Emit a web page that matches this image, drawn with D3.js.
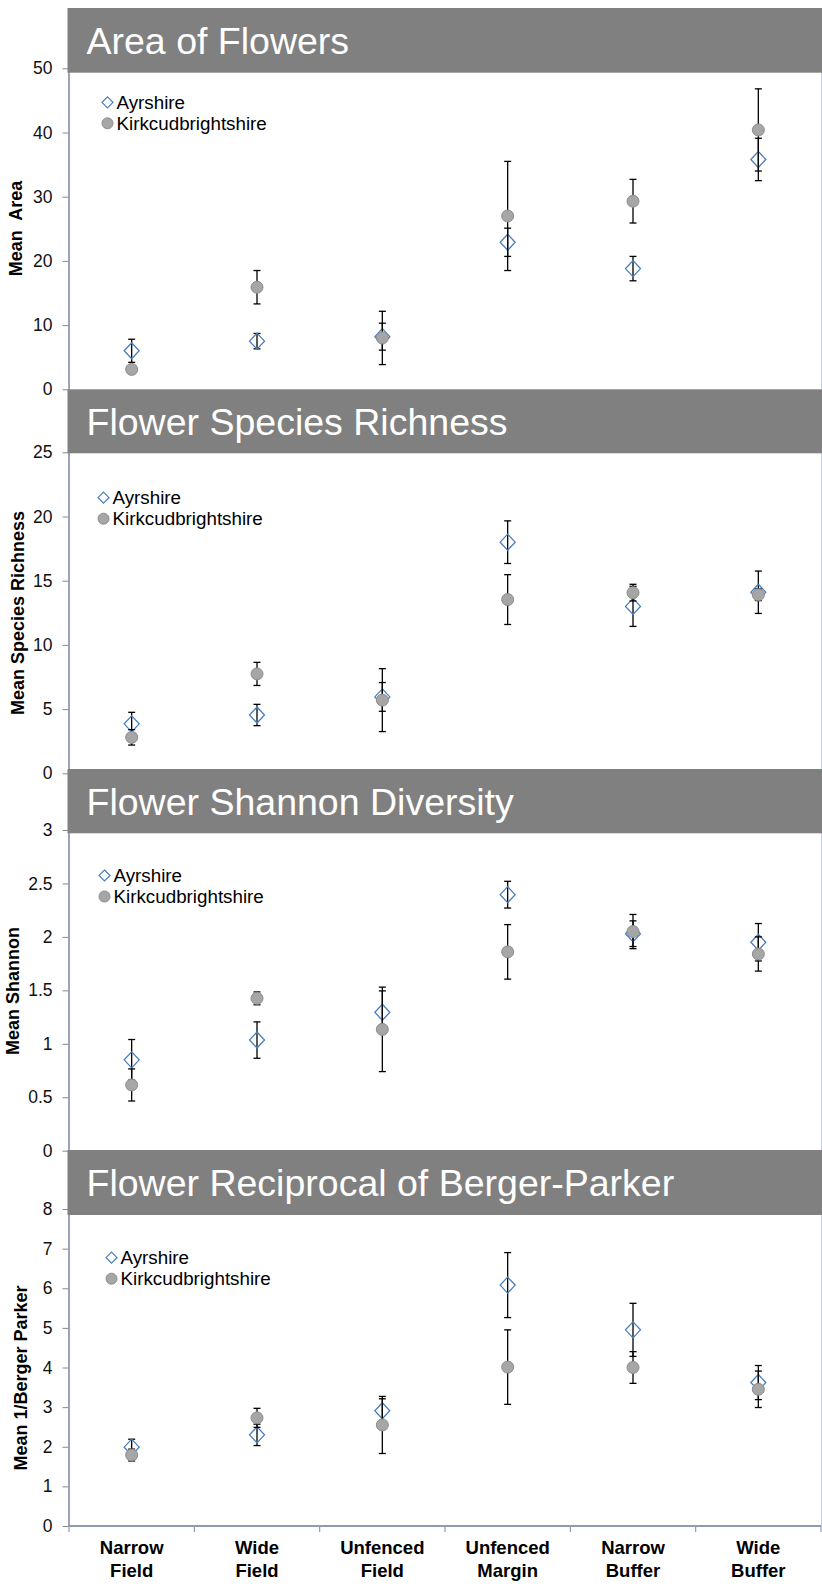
<!DOCTYPE html>
<html>
<head>
<meta charset="utf-8">
<script src="https://cdn.jsdelivr.net/npm/d3@7/dist/d3.min.js"></script>
<style>
  body { margin: 0; background: #fff; }
  text { font-family: "Liberation Sans", Arial, sans-serif; }
</style>
</head>
<body>
<script>
// ----------------------
// DATA
// ----------------------
const categories = [
  ["Narrow", "Field"], ["Wide", "Field"], ["Unfenced", "Field"],
  ["Unfenced", "Margin"], ["Narrow", "Buffer"], ["Wide", "Buffer"]
];
const seriesNames = ["Ayrshire", "Kirkcudbrightshire"];

// Area of flowers
const areaAyr     = [6.0, 7.5, 8.2, 22.9, 18.8, 35.8];
const areaAyrErr  = [1.8, 1.2, 2.1, 2.2, 1.9, 3.3];
const areaKirk    = [3.1, 15.9, 8.0, 27.0, 29.3, 40.4];
const areaKirkErr = [0.4, 2.6, 4.15, 8.5, 3.4, 6.4];
const areaTicks   = [0, 10, 20, 30, 40, 50];

// Species richness
const richAyr     = [3.85, 4.54, 5.95, 18.0, 13.0, 14.1];
const richAyrErr  = [0.9, 0.83, 1.12, 1.66, 1.56, 1.65];
const richKirk    = [2.8, 7.74, 5.7, 13.53, 14.07, 13.9];
const richKirkErr = [0.6, 0.9, 2.45, 1.94, 0.65, 0.45];
const richTicks   = [0, 5, 10, 15, 20, 25];

// Shannon diversity
const shanAyr     = [0.85, 1.035, 1.295, 2.395, 2.03, 1.95];
const shanAyrErr  = [0.19, 0.17, 0.2, 0.125, 0.12, 0.175];
const shanKirk    = [0.615, 1.425, 1.135, 1.86, 2.05, 1.84];
const shanKirkErr = [0.15, 0.06, 0.395, 0.255, 0.16, 0.16];
const shanTicks   = [0, 0.5, 1, 1.5, 2, 2.5, 3];

// Reciprocal of Berger-Parker
const bpAyr     = [1.99, 2.30, 2.91, 6.08, 4.95, 3.62];
const bpAyrErr  = [0.2, 0.27, 0.3, 0.82, 0.67, 0.43];
const bpKirk    = [1.79, 2.73, 2.55, 4.01, 4.0, 3.45];
const bpKirkErr = [0.15, 0.24, 0.72, 0.94, 0.4, 0.46];
const bpTicks   = [0, 1, 2, 3, 4, 5, 6, 7, 8];

// ----------------------
// LAYOUT
// ----------------------
const width = 822, height = 1589;
const plotLeft = 69, plotRight = 821;
const ayrColor = "#4a7ebb", kirkFill = "#a6a6a6", kirkStroke = "#8c8c8c";
const axisColor = "#8e9bb3", headColor = "#808080";

const panels = [
  { title: "Area of Flowers", yLabel: "Mean  Area", ticks: areaTicks,
    ayr: areaAyr, ayrErr: areaAyrErr, kirk: areaKirk, kirkErr: areaKirkErr,
    top: 68.3, zero: 389.3, headTop: 8, headBot: 72.7, legX: 107.5, legY: 102.3, labX: 16, labY: 228.5 },
  { title: "Flower Species Richness", yLabel: "Mean Species Richness", ticks: richTicks,
    ayr: richAyr, ayrErr: richAyrErr, kirk: richKirk, kirkErr: richKirkErr,
    top: 452.3, zero: 773.3, headTop: 389.3, headBot: 453.3, legX: 103.5, legY: 497.7, labX: 17.5, labY: 613 },
  { title: "Flower Shannon Diversity", yLabel: "Mean Shannon", ticks: shanTicks,
    ayr: shanAyr, ayrErr: shanAyrErr, kirk: shanKirk, kirkErr: shanKirkErr,
    top: 830, zero: 1150.7, headTop: 769, headBot: 833.3, legX: 104.5, legY: 875.5, labX: 13, labY: 991 },
  { title: "Flower Reciprocal of Berger-Parker", yLabel: "Mean 1/Berger Parker", ticks: bpTicks,
    ayr: bpAyr, ayrErr: bpAyrErr, kirk: bpKirk, kirkErr: bpKirkErr,
    top: 1209, zero: 1526, headTop: 1150, headBot: 1215, legX: 111.5, legY: 1257.7, labX: 21, labY: 1378 }
];

const svg = d3.select("body").append("svg")
  .attr("width", width).attr("height", height);

const x = d3.scaleBand().domain(d3.range(categories.length)).range([plotLeft, plotRight]);

const diamond = (cx, cy, hw, hh) =>
  `M${cx},${cy - hh}L${cx + hw},${cy}L${cx},${cy + hh}L${cx - hw},${cy}Z`;

function drawSeries(g, y, vals, errs, kind){
  const cx = i => x(i) + x.bandwidth() / 2;
  const eb = g.append("g").selectAll("g").data(vals).join("g")
    .attr("stroke", "#000").attr("stroke-width", 1.3);
  eb.append("line")
    .attr("x1", (d, i) => cx(i)).attr("x2", (d, i) => cx(i))
    .attr("y1", (d, i) => y(d + errs[i])).attr("y2", (d, i) => y(d - errs[i]));
  [1, -1].forEach(s => {
    eb.append("line")
      .attr("x1", (d, i) => cx(i) - 3.5).attr("x2", (d, i) => cx(i) + 3.5)
      .attr("y1", (d, i) => y(d + s * errs[i])).attr("y2", (d, i) => y(d + s * errs[i]));
  });
  if(kind === "ayr"){
    g.append("g").selectAll("path").data(vals).join("path")
      .attr("d", (d, i) => diamond(cx(i), y(d), 7.5, 8))
      .attr("fill", "none").attr("stroke", ayrColor).attr("stroke-width", 1.3);
  } else {
    g.append("g").selectAll("circle").data(vals).join("circle")
      .attr("cx", (d, i) => cx(i)).attr("cy", d => y(d)).attr("r", 6)
      .attr("fill", kirkFill).attr("stroke", kirkStroke).attr("stroke-width", 1);
  }
}

// plots first, headers drawn afterwards so they sit on top
panels.forEach(p => {
  const y = d3.scaleLinear().domain([0, d3.max(p.ticks)]).range([p.zero, p.top]);
  const g = svg.append("g");

  // right border of plot area
  g.append("line").attr("x1", plotRight + 0.5).attr("x2", plotRight + 0.5)
    .attr("y1", p.top).attr("y2", p.zero).attr("stroke", "#c3cde0").attr("stroke-width", 1);

  const ax = g.append("g").attr("transform", `translate(${plotLeft - 0.5},0)`)
    .call(d3.axisLeft(y).tickValues(p.ticks).tickFormat(d3.format("~g"))
      .tickSize(6).tickSizeOuter(0).tickPadding(10));
  ax.select(".domain").attr("stroke", axisColor).attr("stroke-width", 1.8);
  ax.selectAll(".tick line").attr("stroke", "#888");
  ax.selectAll(".tick text").attr("font-size", 17.5).attr("fill", "#111")
    .attr("font-family", "Liberation Sans, Arial, sans-serif");

  g.append("text")
    .attr("transform", `translate(${p.labX},${p.labY}) rotate(-90)`)
    .attr("text-anchor", "middle").attr("dy", "0.36em")
    .attr("font-size", 18).attr("font-weight", "bold")
    .style("white-space", "pre")
    .text(p.yLabel);

  drawSeries(g, y, p.ayr, p.ayrErr, "ayr");
  drawSeries(g, y, p.kirk, p.kirkErr, "kirk");

  // legend
  const leg = g.append("g");
  leg.append("path").attr("d", diamond(p.legX, p.legY, 5.5, 5.5))
    .attr("fill", "none").attr("stroke", ayrColor).attr("stroke-width", 1.2);
  leg.append("circle").attr("cx", p.legX).attr("cy", p.legY + 21).attr("r", 5.5)
    .attr("fill", kirkFill).attr("stroke", kirkStroke);
  seriesNames.forEach((s, i) => {
    leg.append("text").attr("x", p.legX + 9).attr("y", p.legY + i * 21 + 6.5)
      .attr("font-size", 18.8).attr("fill", "#000").text(s);
  });
});

// bottom category axis (last panel only)
const last = panels[panels.length - 1];
const xAxis = svg.append("g").attr("transform", `translate(0,${last.zero})`);
xAxis.append("line").attr("x1", plotLeft - 1).attr("x2", plotRight)
  .attr("stroke", axisColor).attr("stroke-width", 2.2);
xAxis.selectAll(".xt").data(d3.range(categories.length + 1)).join("line")
  .attr("x1", i => plotLeft + i * x.bandwidth()).attr("x2", i => plotLeft + i * x.bandwidth())
  .attr("y1", 0).attr("y2", 6).attr("stroke", axisColor).attr("stroke-width", 1.2);
const labs = xAxis.selectAll(".xl").data(categories).join("text")
  .attr("text-anchor", "middle").attr("font-size", 18.5).attr("font-weight", "bold").attr("fill", "#000");
labs.append("tspan").attr("x", (d, i) => x(i) + x.bandwidth() / 2).attr("y", 28).text(d => d[0]);
labs.append("tspan").attr("x", (d, i) => x(i) + x.bandwidth() / 2).attr("y", 51).text(d => d[1]);

// grey title bands
panels.forEach(p => {
  svg.append("rect").attr("x", 67.5).attr("y", p.headTop)
    .attr("width", width - 67.5).attr("height", p.headBot - p.headTop).attr("fill", headColor);
  svg.append("text").attr("x", 86.5).attr("y", p.headTop + 45.5)
    .attr("font-size", 37.5).attr("fill", "#fff").text(p.title);
});
</script>
</body>
</html>
